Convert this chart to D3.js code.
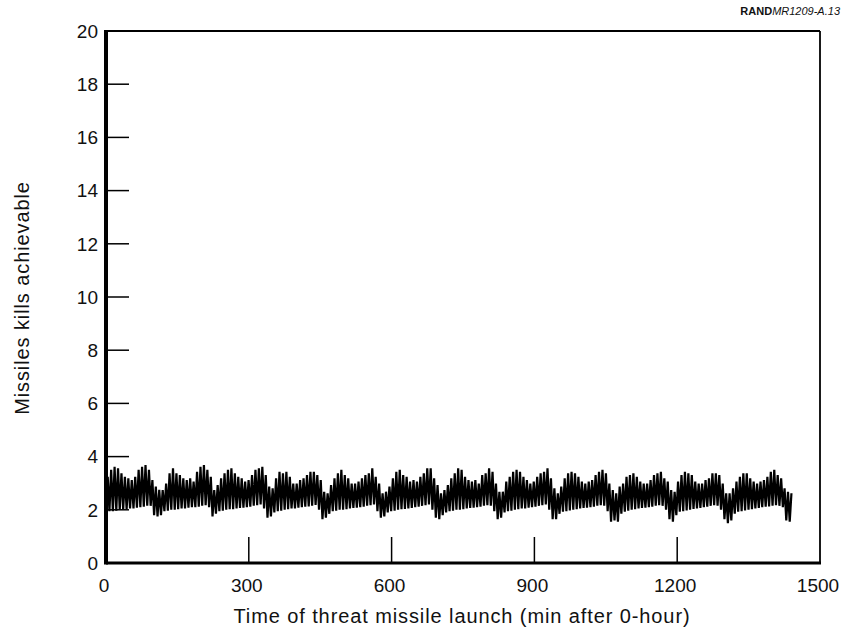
<!DOCTYPE html>
<html>
<head>
<meta charset="utf-8">
<script src="https://cdn.jsdelivr.net/npm/d3@7"></script>
<style>
  body { margin: 0; background: #fff; }
  text { font-family: "Liberation Sans", Arial, Helvetica, sans-serif; fill: #111; }
</style>
</head>
<body>
<svg id="chart"></svg>
<script>
// spike tops and the troughs between them, read burst by burst (about 2 hours each)
var peaks = [
  3.24, 3.50, 3.62, 3.56, 3.37, 3.24, 3.18, 3.12, 3.24, 3.50, 3.62, 3.68, 3.50, 3.12, 2.87, 2.75,
  2.74, 2.99, 3.37, 3.56, 3.37, 3.31, 3.18, 3.12, 3.18, 3.06, 3.43, 3.62, 3.68, 3.50, 3.24, 2.74,
  2.93, 3.18, 3.37, 3.50, 3.56, 3.37, 3.24, 3.18, 3.06, 3.12, 3.31, 3.50, 3.56, 3.62, 3.31, 2.87,
  2.81, 3.18, 3.43, 3.37, 3.43, 3.24, 2.99, 2.99, 3.12, 3.18, 3.31, 3.43, 3.43, 3.31, 3.12, 2.68,
  2.62, 2.93, 3.18, 3.37, 3.50, 3.31, 3.18, 2.99, 2.99, 3.06, 3.18, 3.31, 3.37, 3.56, 3.24, 2.99, 2.62,
  2.68, 2.87, 3.18, 3.43, 3.50, 3.31, 3.24, 3.06, 3.12, 3.06, 3.24, 3.37, 3.56, 3.56, 3.18, 2.93,
  2.62, 2.74, 2.93, 3.18, 3.37, 3.56, 3.50, 3.24, 3.12, 3.06, 3.12, 2.99, 3.31, 3.37, 3.56, 3.43, 2.99, 2.68,
  2.68, 3.06, 3.24, 3.43, 3.50, 3.43, 3.24, 3.12, 2.99, 3.06, 3.24, 3.37, 3.43, 3.56, 3.18, 2.81,
  2.62, 2.87, 3.18, 3.37, 3.43, 3.37, 3.24, 3.06, 2.99, 3.06, 3.12, 3.31, 3.43, 3.50, 3.37, 2.99, 2.74,
  2.62, 2.87, 2.99, 3.24, 3.31, 3.37, 3.24, 3.06, 2.99, 2.99, 3.12, 3.31, 3.37, 3.43, 3.18, 3.06, 2.74,
  2.68, 3.06, 3.31, 3.43, 3.37, 3.31, 3.06, 2.99, 2.99, 3.12, 3.18, 3.37, 3.37, 3.31, 2.99, 2.62,
  2.62, 2.81, 3.06, 3.24, 3.37, 3.37, 3.18, 3.06, 2.99, 3.06, 3.12, 3.24, 3.43, 3.50, 3.31, 3.18, 2.81, 2.68, 2.62
];
var troughs = [
  2.00, 1.95, 1.95, 1.97, 2.00, 2.00, 2.02, 2.05, 2.05, 2.08, 2.10, 2.12, 2.15, 2.15, 1.80, 1.75,
  1.80, 1.95, 1.97, 2.00, 2.00, 2.02, 2.05, 2.05, 2.08, 2.10, 2.10, 2.12, 2.15, 2.17, 2.10, 1.75,
  1.85, 1.95, 1.97, 2.00, 2.02, 2.02, 2.05, 2.07, 2.08, 2.10, 2.12, 2.15, 2.17, 2.20, 2.05, 1.70,
  1.75, 1.90, 1.95, 1.97, 2.00, 2.02, 2.05, 2.05, 2.08, 2.10, 2.12, 2.13, 2.15, 2.18, 2.00, 1.65,
  1.70, 1.85, 1.95, 1.97, 2.00, 2.00, 2.02, 2.05, 2.07, 2.08, 2.10, 2.12, 2.15, 2.17, 2.20, 1.95, 1.70,
  1.75, 1.90, 1.95, 1.97, 2.00, 2.02, 2.03, 2.05, 2.07, 2.10, 2.12, 2.15, 2.17, 2.20, 2.00, 1.70,
  1.65, 1.80, 1.90, 1.95, 1.97, 2.00, 2.00, 2.02, 2.05, 2.07, 2.08, 2.10, 2.12, 2.15, 2.17, 2.15, 1.95, 1.65,
  1.70, 1.90, 1.95, 1.97, 2.00, 2.02, 2.05, 2.05, 2.08, 2.10, 2.12, 2.15, 2.17, 2.20, 2.00, 1.65,
  1.65, 1.85, 1.93, 1.95, 1.98, 2.00, 2.02, 2.05, 2.07, 2.08, 2.10, 2.12, 2.15, 2.17, 2.15, 1.95, 1.55,
  1.60, 1.55, 1.85, 1.93, 1.97, 2.00, 2.02, 2.05, 2.07, 2.08, 2.10, 2.12, 2.15, 2.17, 2.15, 2.00, 1.65,
  1.55, 1.80, 1.93, 1.95, 1.98, 2.00, 2.03, 2.05, 2.07, 2.10, 2.12, 2.15, 2.17, 2.15, 2.00, 1.65,
  1.50, 1.60, 1.85, 1.93, 1.95, 1.98, 2.00, 2.02, 2.05, 2.07, 2.10, 2.12, 2.13, 2.15, 2.17, 2.15, 2.10, 1.60, 1.55
];
var xTicks = [0, 300, 600, 900, 1200, 1500];
var yTicks = [0, 2, 4, 6, 8, 10, 12, 14, 16, 18, 20];
var lastMinute = 1440;

var width = 843, height = 630;
var plotL = 106, plotR = 820, plotT = 31, plotB = 563;

var svg = d3.select("#chart")
    .attr("width", width)
    .attr("height", height);

svg.append("rect")
    .attr("width", width)
    .attr("height", height)
    .attr("fill", "#fff");

var x = d3.scaleLinear().domain([0, 1500]).range([plotL, plotR]);
var y = d3.scaleLinear().domain([0, 20]).range([plotB, plotT]);

// trough, peak, trough, peak ... on an even grid over the day
var values = [];
peaks.forEach(function (p, i) {
    values.push(troughs[i]);
    values.push(p);
});
var step = lastMinute / (values.length - 1);
var series = values.map(function (v, i) { return [i * step, v]; });

var line = d3.line()
    .x(function (d) { return x(d[0]); })
    .y(function (d) { return y(d[1]); });

svg.append("path")
    .datum(series)
    .attr("d", line)
    .attr("fill", "none")
    .attr("stroke", "#000")
    .attr("stroke-width", 2.2)
    .attr("stroke-linejoin", "miter");

// frame: heavy left and bottom, light top and right
svg.append("line").attr("x1", plotL).attr("x2", plotR).attr("y1", plotT).attr("y2", plotT)
    .attr("stroke", "#000").attr("stroke-width", 1.8);
svg.append("line").attr("x1", plotR).attr("x2", plotR).attr("y1", plotT).attr("y2", plotB)
    .attr("stroke", "#000").attr("stroke-width", 1.8);
svg.append("line").attr("x1", plotL).attr("x2", plotR + 1).attr("y1", plotB).attr("y2", plotB)
    .attr("stroke", "#000").attr("stroke-width", 3);
svg.append("line").attr("x1", plotL).attr("x2", plotL).attr("y1", plotT - 1).attr("y2", plotB + 1.5)
    .attr("stroke", "#000").attr("stroke-width", 4);

// inside ticks
svg.append("g").selectAll("line")
    .data(yTicks.filter(function (d) { return d > 0 && d < 20; }))
    .join("line")
    .attr("x1", plotL)
    .attr("x2", plotL + 23)
    .attr("y1", function (d) { return y(d); })
    .attr("y2", function (d) { return y(d); })
    .attr("stroke", "#000")
    .attr("stroke-width", 1.5);

svg.append("g").selectAll("line")
    .data(xTicks.filter(function (d) { return d > 0 && d < 1500; }))
    .join("line")
    .attr("x1", function (d) { return x(d); })
    .attr("x2", function (d) { return x(d); })
    .attr("y1", plotB)
    .attr("y2", plotB - 26)
    .attr("stroke", "#000")
    .attr("stroke-width", 1.5);

// tick labels
svg.append("g").selectAll("text")
    .data(yTicks)
    .join("text")
    .attr("x", plotL - 8)
    .attr("y", function (d) { return y(d); })
    .attr("dy", "0.36em")
    .attr("text-anchor", "end")
    .attr("font-size", 19)
    .text(function (d) { return d; });

svg.append("g").selectAll("text")
    .data(xTicks)
    .join("text")
    .attr("x", function (d) { return x(d) - 2; })
    .attr("y", 592)
    .attr("text-anchor", "middle")
    .attr("font-size", 19)
    .text(function (d) { return d; });

// axis titles
svg.append("text")
    .attr("x", 462)
    .attr("y", 623)
    .attr("text-anchor", "middle")
    .attr("font-size", 20)
    .attr("letter-spacing", 0.9)
    .text("Time of threat missile launch (min after 0-hour)");

svg.append("text")
    .attr("transform", "translate(29,298) rotate(-90)")
    .attr("text-anchor", "middle")
    .attr("font-size", 20)
    .attr("letter-spacing", 0.9)
    .text("Missiles kills achievable");

// figure id
var id = svg.append("text")
    .attr("x", 840)
    .attr("y", 15)
    .attr("text-anchor", "end")
    .attr("font-size", 11);
id.append("tspan").attr("font-weight", "bold").text("RAND");
id.append("tspan").attr("font-style", "italic").text("MR1209-A.13");
</script>
</body>
</html>
